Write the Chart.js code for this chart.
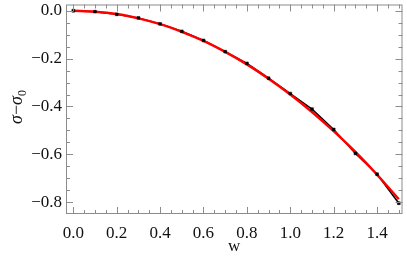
<!DOCTYPE html>
<html>
<head>
<meta charset="utf-8">
<script src="https://cdn.jsdelivr.net/npm/chart.js@4.4.0/dist/chart.umd.min.js"></script>
<style>
  html, body { margin: 0; padding: 0; background: #fff; }
  #wrap { width: 407px; height: 267px; }
</style>
</head>
<body>
<div id="wrap"><canvas id="c" width="407" height="267"></canvas></div>
<script>
// w values (x axis)
const wValues = [0.0, 0.1, 0.2, 0.3, 0.4, 0.5, 0.6, 0.7, 0.8, 0.9, 1.0, 1.1, 1.2, 1.3, 1.4, 1.5];
// measured sigma - sigma_0 (black points)
const sigmaData = [0, -0.004, -0.015, -0.030, -0.055, -0.086, -0.124, -0.171, -0.220, -0.282, -0.346, -0.411, -0.496, -0.596, -0.683, -0.804];
// fitted curve (red)
const fitValues = [0, -0.004, -0.014, -0.032, -0.056, -0.088, -0.126, -0.172, -0.224, -0.284, -0.350, -0.423, -0.503, -0.590, -0.685, -0.787];

const xTicks = [0, 0.2, 0.4, 0.6, 0.8, 1.0, 1.2, 1.4];
const xTickLabels = ['0.0', '0.2', '0.4', '0.6', '0.8', '1.0', '1.2', '1.4'];
const yTicks = [0, -0.2, -0.4, -0.6, -0.8];
const yTickLabels = ['0.0', '\u22120.2', '\u22120.4', '\u22120.6', '\u22120.8'];

const frameColor = '#8c8c8c';
const textColor = '#111';
const labelFont = '"Liberation Serif", "Times New Roman", Times, serif';

const toPoints = (ys) => wValues.map((w, i) => ({ x: w, y: ys[i] }));

// Mathematica-like frame with inward ticks on all four sides, plus axis titles
const framePlugin = {
  id: 'frame',
  afterDraw(chart) {
    const { ctx, chartArea: a, scales } = chart;
    const xs = scales.x, ys = scales.y;
    ctx.save();
    ctx.strokeStyle = frameColor;
    ctx.lineWidth = 1;
    ctx.strokeRect(a.left + 0.5, a.top + 0.5, a.right - a.left - 1, a.bottom - a.top - 1);

    ctx.beginPath();
    for (let i = 0; i <= 30; i++) {
      const v = i * 0.05;
      const px = Math.round(xs.getPixelForValue(v)) + 0.5;
      const len = (i % 4 === 0) ? 7 : 4;
      ctx.moveTo(px, a.bottom); ctx.lineTo(px, a.bottom - len);
      ctx.moveTo(px, a.top); ctx.lineTo(px, a.top + len);
    }
    for (let i = 0; i <= 16; i++) {
      const v = -i * 0.05;
      const py = Math.round(ys.getPixelForValue(v)) + 0.5;
      const len = (i % 4 === 0) ? 7 : 4;
      ctx.moveTo(a.left, py); ctx.lineTo(a.left + len, py);
      ctx.moveTo(a.right, py); ctx.lineTo(a.right - len, py);
    }
    ctx.stroke();

    // x title
    ctx.fillStyle = textColor;
    ctx.font = '17px ' + labelFont;
    ctx.textAlign = 'center';
    ctx.textBaseline = 'middle';
    ctx.fillText('w', (a.left + a.right) / 2, 247);

    // y title: sigma - sigma_0, rotated
    ctx.translate(16, 107);
    ctx.rotate(-Math.PI / 2);
    ctx.textAlign = 'left';
    ctx.textBaseline = 'alphabetic';
    const sig = 'italic 18px ' + labelFont;
    const minus = '18px ' + labelFont;
    ctx.font = sig;
    const w1 = ctx.measureText('\u03c3').width;
    ctx.font = minus;
    const w2 = ctx.measureText('\u2212').width;
    ctx.font = sig;
    const w3 = ctx.measureText('\u03c3').width;
    ctx.font = '12px ' + labelFont;
    const w4 = ctx.measureText('0').width;
    let x0 = -(w1 + w2 + w3 + w4) / 2;
    const base = 6;
    ctx.font = sig; ctx.fillText('\u03c3', x0, base); x0 += w1;
    ctx.font = minus; ctx.fillText('\u2212', x0, base); x0 += w2;
    ctx.font = sig; ctx.fillText('\u03c3', x0, base); x0 += w3;
    ctx.font = '12px ' + labelFont; ctx.fillText('0', x0, base + 4);
    ctx.restore();
  }
};

new Chart(document.getElementById('c'), {
  type: 'line',
  data: {
    datasets: [
      {
        label: 'fit',
        data: toPoints(fitValues),
        borderColor: '#ff0000',
        borderWidth: 2.5,
        pointRadius: 0,
        tension: 0.4,
        cubicInterpolationMode: 'monotone',
        order: 2
      },
      {
        label: 'data line',
        data: toPoints(sigmaData),
        borderColor: '#000000',
        borderWidth: 1.5,
        pointRadius: 0,
        tension: 0,
        order: 3
      },
      {
        label: 'data',
        data: toPoints(sigmaData),
        showLine: false,
        pointStyle: 'rect',
        pointRadius: 2,
        pointBackgroundColor: '#000000',
        pointBorderColor: '#000000',
        pointBorderWidth: 0.5,
        order: 1
      }
    ]
  },
  options: {
    responsive: false,
    animation: false,
    devicePixelRatio: 1,
    layout: { padding: { top: 4, right: 4, left: 0, bottom: 0 } },
    plugins: { legend: { display: false }, tooltip: { enabled: false } },
    scales: {
      x: {
        type: 'linear',
        min: -0.0336,
        max: 1.517,
        afterFit: (s) => { s.height = 53; s.paddingLeft = 0; s.paddingRight = 0; },
        afterBuildTicks: (s) => { s.ticks = xTicks.map(v => ({ value: v })); },
        grid: { display: false, drawTicks: false },
        border: { display: false },
        ticks: {
          padding: 9,
          color: textColor,
          font: { family: labelFont, size: 17 },
          maxRotation: 0,
          autoSkip: false,
          callback: (v) => xTickLabels[xTicks.findIndex(t => Math.abs(t - v) < 1e-6)]
        }
      },
      y: {
        type: 'linear',
        min: -0.849,
        max: 0.026,
        afterFit: (s) => { s.width = 66; s.paddingTop = 0; s.paddingBottom = 0; },
        afterBuildTicks: (s) => { s.ticks = yTicks.map(v => ({ value: v })); },
        grid: { display: false, drawTicks: false },
        border: { display: false },
        ticks: {
          padding: 4,
          color: textColor,
          font: { family: labelFont, size: 17 },
          autoSkip: false,
          callback: (v) => yTickLabels[yTicks.findIndex(t => Math.abs(t - v) < 1e-6)]
        }
      }
    }
  },
  plugins: [framePlugin]
});
</script>
</body>
</html>
